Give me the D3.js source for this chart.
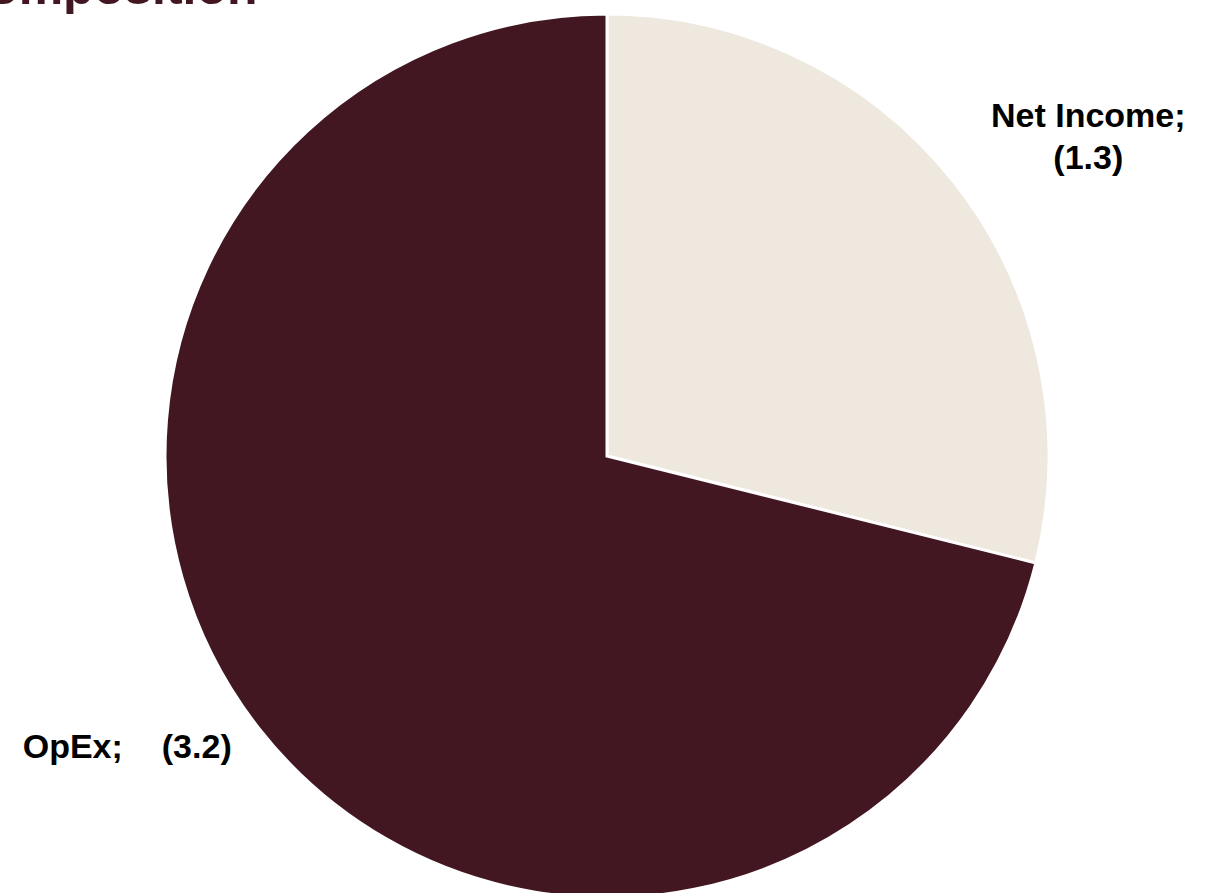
<!DOCTYPE html>
<html>
<head>
<meta charset="utf-8">
<script src="https://cdn.jsdelivr.net/npm/d3@7"></script>
<style>
  html, body { margin: 0; padding: 0; background: #ffffff; }
  svg { display: block; }
  text { white-space: pre; }
</style>
</head>
<body>
<script>
// ---- data ----
const categories = ["Net Income", "OpEx"];
const values = [1.3, 3.2];
const valueLabels = ["(1.3)", "(3.2)"];
const colors = ["#EEE8DE", "#421721"];
const titleText = "Composition";

// ---- layout ----
const W = 1209, H = 893;
const cx = 607, cy = 456, R = 442;

const svg = d3.select("body").append("svg")
  .attr("width", W).attr("height", H);

svg.append("text")
  .attr("x", -48).attr("y", 4)
  .attr("font-family", "Liberation Sans, Arial, sans-serif")
  .attr("font-weight", "bold")
  .attr("font-size", 50)
  .attr("fill", "#421721")
  .text(titleText);

const data = categories.map((c, i) => ({ name: c, value: values[i], label: valueLabels[i], color: colors[i] }));

const pie = d3.pie().sort(null).value(d => d.value);
const arcs = pie(data);
const arc = d3.arc().innerRadius(0).outerRadius(R);

const g = svg.append("g").attr("transform", `translate(${cx},${cy})`);

g.selectAll("path.slice")
  .data(arcs)
  .join("path")
  .attr("class", "slice")
  .attr("d", arc)
  .attr("fill", d => d.data.color)
  .attr("stroke", "#ffffff")
  .attr("stroke-width", 3)
  .attr("stroke-linejoin", "miter");

// labels
const labelArc = d3.arc().innerRadius(560).outerRadius(560);
const fontSize = 34;
const lab = g.selectAll("g.lab").data(arcs).join("g").attr("class", "lab");

lab.each(function (d, i) {
  const [x, y] = labelArc.centroid(d);
  const sel = d3.select(this);
  const t = sel.append("text")
    .attr("font-family", "Liberation Sans, Arial, sans-serif")
    .attr("font-weight", "bold")
    .attr("font-size", fontSize)
    .attr("fill", "#000000");
  if (i === 0) {
    t.attr("text-anchor", "middle");
    t.append("tspan").attr("x", x + 40).attr("y", y + 16).text(d.data.name + ";");
    t.append("tspan").attr("x", x + 40).attr("y", y + 58).text(d.data.label);
  } else {
    t.append("tspan").attr("text-anchor", "start").attr("x", x - 143).attr("y", y - 43).text(d.data.name + ";");
    t.append("tspan").attr("text-anchor", "end").attr("x", x + 66).attr("y", y - 43).text(d.data.label);
  }
});
</script>
</body>
</html>
